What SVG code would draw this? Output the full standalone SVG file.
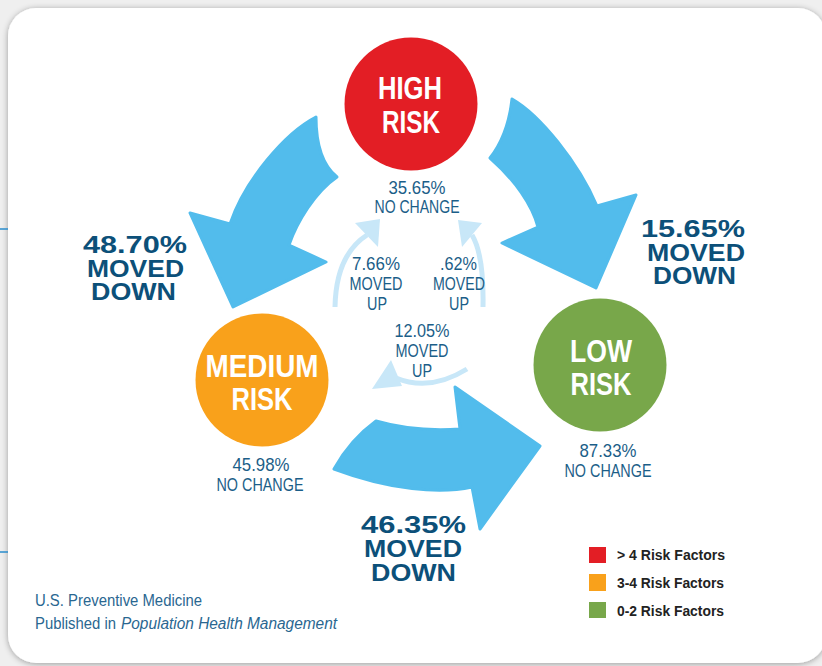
<svg xmlns="http://www.w3.org/2000/svg" width="822" height="666" viewBox="0 0 822 666">
<defs>
<filter id="sh" x="-5%" y="-5%" width="110%" height="110%">
<feGaussianBlur in="SourceAlpha" stdDeviation="3"/>
<feOffset dx="0" dy="1"/>
<feComponentTransfer><feFuncA type="linear" slope="0.35"/></feComponentTransfer>
<feMerge><feMergeNode/><feMergeNode in="SourceGraphic"/></feMerge>
</filter>
</defs>
<style>
.big{fill:#52bcec;stroke:#52bcec;stroke-width:3;stroke-linejoin:round}
.sm{fill:none;stroke:#c8e7f8;stroke-width:5;stroke-linecap:butt}
.smh{fill:#c8e7f8}
.cl{font-family:"Liberation Sans Narrow","Liberation Sans",sans-serif;font-weight:700;font-size:31px;fill:#ffffff;text-anchor:middle}
.st{font-family:"Liberation Sans Narrow","Liberation Sans",sans-serif;font-size:18.5px;fill:#1b5e88;text-anchor:middle}
.bl{font-family:"Liberation Sans",Arial,sans-serif;font-weight:900;font-size:24px;fill:#0c5079;text-anchor:middle}
.lg{font-family:"Liberation Sans",Arial,sans-serif;font-weight:700;font-size:14px;fill:#222222}
.ft{font-family:"Liberation Sans Narrow","Liberation Sans",sans-serif;font-size:16px;fill:#2a6791}
</style>
<rect x="0" y="0" width="822" height="666" fill="#efefef"/>
<rect x="8" y="8" width="818" height="655" rx="28" ry="28" fill="#ffffff" filter="url(#sh)"/>
<line x1="0" y1="229" x2="8" y2="229" stroke="#2a8ccc" stroke-width="1.5"/>
<line x1="0" y1="552" x2="8" y2="552" stroke="#2a8ccc" stroke-width="1.5"/>

<g id="connectors">
<path class="big" d="M316,117 C285,133 245,180 230,224 L190,213 L233,307 L326,262 L289,245 C297,222 315,192 337,177 Q316,160 316,117 Z"/>
<path class="big" d="M512,99 C540,115 578,162 597,206 L636,195 L596,288 L502,243 L538,227 C532,205 515,180 490,158 Q508,135 512,99 Z"/>
<path class="big" d="M376,421 C400,428 430,431 460,429 L455,387 L540,446 L480,529 L472,487 C440,494 390,490 334,469 Q350,440 376,421 Z"/>
<path class="sm" d="M335,307 Q336,255 367,235"/>
<polygon class="smh" points="355,223 380,219 378,247"/>
<path class="sm" d="M483,307 Q484,255 472,235"/>
<polygon class="smh" points="458,220 482,223 462,247"/>
<path class="sm" d="M467,369 Q430,392 396,378"/>
<polygon class="smh" points="391,360 372,389 402,386"/>
</g>

<g id="high-risk">
<circle cx="411" cy="104" r="66.5" fill="#e31e25"/>
<text class="cl" x="410" y="99" textLength="64" lengthAdjust="spacingAndGlyphs">HIGH</text>
<text class="cl" x="411" y="133" textLength="58" lengthAdjust="spacingAndGlyphs">RISK</text>
<text class="st" x="417" y="194" textLength="57" lengthAdjust="spacingAndGlyphs">35.65%</text>
<text class="st" x="417" y="213" textLength="85" lengthAdjust="spacingAndGlyphs">NO CHANGE</text>
</g>

<g id="medium-risk">
<circle cx="262" cy="380" r="66.5" fill="#f9a11b"/>
<text class="cl" x="262" y="377" textLength="113" lengthAdjust="spacingAndGlyphs">MEDIUM</text>
<text class="cl" x="262" y="410" textLength="61" lengthAdjust="spacingAndGlyphs">RISK</text>
<text class="st" x="261" y="471" textLength="57" lengthAdjust="spacingAndGlyphs">45.98%</text>
<text class="st" x="260" y="491" textLength="87" lengthAdjust="spacingAndGlyphs">NO CHANGE</text>
</g>

<g id="low-risk">
<circle cx="600" cy="365" r="66.5" fill="#78a74a"/>
<text class="cl" x="601" y="362" textLength="62" lengthAdjust="spacingAndGlyphs">LOW</text>
<text class="cl" x="601" y="395" textLength="61" lengthAdjust="spacingAndGlyphs">RISK</text>
<text class="st" x="608" y="457" textLength="57" lengthAdjust="spacingAndGlyphs">87.33%</text>
<text class="st" x="608" y="477" textLength="87" lengthAdjust="spacingAndGlyphs">NO CHANGE</text>
</g>

<g id="labels">
<text class="bl" x="135" y="253" textLength="104" lengthAdjust="spacingAndGlyphs">48.70%</text>
<text class="bl" x="135.5" y="277" textLength="97" lengthAdjust="spacingAndGlyphs">MOVED</text>
<text class="bl" x="133.5" y="300" textLength="85" lengthAdjust="spacingAndGlyphs">DOWN</text>
<text class="bl" x="693" y="237" textLength="104" lengthAdjust="spacingAndGlyphs">15.65%</text>
<text class="bl" x="696" y="261" textLength="98" lengthAdjust="spacingAndGlyphs">MOVED</text>
<text class="bl" x="694.5" y="284" textLength="83" lengthAdjust="spacingAndGlyphs">DOWN</text>
<text class="bl" x="413.5" y="533" textLength="105" lengthAdjust="spacingAndGlyphs">46.35%</text>
<text class="bl" x="413" y="557" textLength="98" lengthAdjust="spacingAndGlyphs">MOVED</text>
<text class="bl" x="413.5" y="581" textLength="85" lengthAdjust="spacingAndGlyphs">DOWN</text>
<text class="st" x="376" y="270" textLength="48" lengthAdjust="spacingAndGlyphs">7.66%</text>
<text class="st" x="376" y="290" textLength="53" lengthAdjust="spacingAndGlyphs">MOVED</text>
<text class="st" x="377" y="310" textLength="20" lengthAdjust="spacingAndGlyphs">UP</text>
<text class="st" x="458.5" y="270" textLength="37" lengthAdjust="spacingAndGlyphs">.62%</text>
<text class="st" x="459" y="290" textLength="52" lengthAdjust="spacingAndGlyphs">MOVED</text>
<text class="st" x="459" y="310" textLength="20" lengthAdjust="spacingAndGlyphs">UP</text>
<text class="st" x="422" y="337" textLength="55" lengthAdjust="spacingAndGlyphs">12.05%</text>
<text class="st" x="422" y="357" textLength="53" lengthAdjust="spacingAndGlyphs">MOVED</text>
<text class="st" x="422" y="377" textLength="20" lengthAdjust="spacingAndGlyphs">UP</text>
</g>

<g id="legend">
<rect x="589" y="547" width="17" height="16" fill="#e31e25"/>
<text class="lg" x="617" y="560" textLength="108" lengthAdjust="spacingAndGlyphs">&gt; 4 Risk Factors</text>
<rect x="589" y="574" width="17" height="17" fill="#f9a11b"/>
<text class="lg" x="617" y="588" textLength="107" lengthAdjust="spacingAndGlyphs">3-4 Risk Factors</text>
<rect x="589" y="602" width="17" height="16" fill="#78a74a"/>
<text class="lg" x="617" y="616" textLength="107" lengthAdjust="spacingAndGlyphs">0-2 Risk Factors</text>
</g>

<g id="footer">
<text class="ft" x="35" y="606" textLength="167" lengthAdjust="spacingAndGlyphs">U.S. Preventive Medicine</text>
<text class="ft" x="35" y="629" textLength="81" lengthAdjust="spacingAndGlyphs">Published in</text>
<text class="ft" x="121" y="629" font-style="italic" textLength="216" lengthAdjust="spacingAndGlyphs">Population Health Management</text>
</g>
</svg>
